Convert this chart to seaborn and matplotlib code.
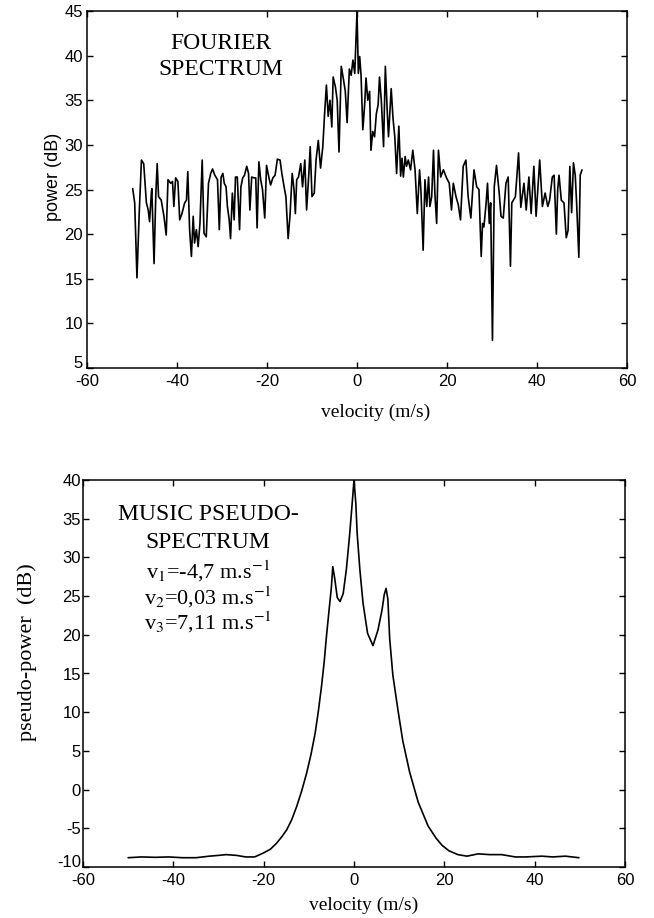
import matplotlib
matplotlib.use("Agg")
import matplotlib.pyplot as plt
import matplotlib.transforms as mtransforms
import seaborn as sns
import pandas as pd

# ---------------- data ----------------
fourier_velocity = [
    -49.85, -49.4, -48.9, -48.4, -47.9, -47.4, -46.8, -46.4, -46.1, -45.7,
    -45.6, -45.1, -44.7, -44.4, -44.1, -43.5, -42.9, -42.4, -42.0, -41.4,
    -41.0, -40.7, -40.3, -39.8, -39.4, -38.9, -38.3, -37.9, -37.6, -37.2,
    -36.8, -36.4, -36.1, -35.7, -35.3, -34.9, -34.4, -34.0, -33.5, -33.0,
    -32.5, -32.1, -31.6, -31.0, -30.6, -30.2, -29.8, -29.5, -29.1, -28.8,
    -28.4, -28.1, -27.7, -27.3, -27.0, -26.6, -26.1, -25.8, -25.4, -25.0,
    -24.5, -24.1, -23.8, -23.4, -22.9, -22.5, -22.2, -21.8, -21.4, -21.0,
    -20.5, -20.1, -19.6, -19.2, -18.7, -18.2, -17.7, -17.1, -16.7, -16.2,
    -15.8, -15.3, -14.9, -14.4, -14.0, -13.7, -13.4, -13.0, -12.5, -12.1,
    -11.6, -11.2, -10.7, -10.4, -10.0, -9.5, -9.1, -8.6, -8.1, -7.6,
    -7.2, -6.8, -6.4, -6.0, -5.6, -5.3, -4.8, -4.4, -4.0, -3.5,
    -3.0, -2.6, -2.2, -1.7, -1.3, -0.9, -0.5, 0.0, 0.3, 0.6,
    0.9, 1.3, 1.7, 2.0, 2.4, 2.8, 3.1, 3.5, 3.9, 4.3,
    4.7, 5.0, 5.4, 5.9, 6.3, 6.7, 7.0, 7.6, 8.0, 8.4,
    8.8, 9.3, 9.7, 10.0, 10.3, 10.7, 11.0, 11.4, 11.9, 12.4,
    12.9, 13.4, 13.9, 14.2, 14.7, 15.1, 15.5, 15.9, 16.2, 16.6,
    17.0, 17.3, 17.7, 18.1, 18.6, 19.2, 19.9, 20.5, 21.0, 21.4,
    22.0, 22.5, 23.0, 23.6, 24.2, 24.7, 25.3, 26.0, 26.6, 27.1,
    27.6, 27.9, 28.2, 28.7, 29.0, 29.4, 29.7, 30.1, 30.5, 31.0,
    31.6, 32.0, 32.5, 33.1, 33.6, 34.1, 34.4, 35.2, 35.9, 36.4,
    37.1, 37.6, 38.2, 38.7, 39.3, 39.8, 40.6, 41.2, 41.8, 42.4,
    42.8, 43.4, 43.8, 44.3, 44.6, 44.9, 45.4, 46.0, 46.5, 46.9,
    47.3, 47.7, 48.1, 48.5, 48.8, 49.3, 49.6, 50.0,
]
fourier_power = [
    25.1, 23.5, 15.1, 22.3, 28.3, 27.9, 23.5, 22.7, 21.4, 24.6,
    25.1, 16.7, 24.6, 27.9, 24.2, 23.8, 22.0, 19.9, 26.1, 25.7,
    25.9, 23.1, 26.3, 25.9, 21.6, 22.3, 23.5, 23.8, 27.0, 20.5,
    17.5, 22.0, 19.0, 20.5, 18.6, 21.2, 28.3, 20.1, 19.7, 25.7,
    26.8, 27.3, 26.6, 26.1, 20.5, 26.4, 26.8, 25.7, 25.3, 23.1,
    21.6, 19.5, 24.6, 21.6, 26.4, 26.4, 20.5, 25.3, 26.3, 26.6,
    27.6, 26.8, 22.7, 26.4, 26.3, 26.3, 20.7, 28.1, 26.1, 25.0,
    21.8, 27.7, 26.4, 25.5, 26.3, 26.6, 28.4, 28.3, 26.8, 25.3,
    24.2, 19.5, 22.0, 26.8, 25.0, 22.3, 26.1, 26.4, 27.9, 25.3,
    28.3, 22.7, 26.8, 29.8, 24.2, 24.6, 28.3, 30.5, 27.4, 29.8,
    33.5, 36.7, 33.2, 35.0, 32.0, 37.6, 36.5, 35.0, 29.2, 38.8,
    37.3, 36.0, 32.5, 38.5, 37.8, 39.5, 38.0, 45.0, 38.0, 39.9,
    37.8, 31.7, 34.5, 37.5, 35.0, 36.0, 29.4, 31.5, 30.9, 33.5,
    34.5, 37.6, 35.0, 29.8, 38.8, 34.0, 30.9, 36.3, 33.0, 30.9,
    26.8, 32.1, 26.5, 28.5, 26.4, 28.7, 27.6, 28.3, 27.2, 29.4,
    27.2, 22.3, 27.2, 25.0, 18.2, 26.1, 23.1, 26.4, 23.1, 24.2,
    29.4, 24.6, 21.2, 29.4, 26.4, 27.2, 26.3, 25.7, 22.7, 25.7,
    24.2, 23.3, 21.6, 27.6, 28.3, 24.2, 21.8, 27.2, 25.3, 25.0,
    17.5, 21.2, 20.8, 23.5, 25.7, 21.2, 23.5, 8.1, 25.3, 27.7,
    24.6, 22.0, 21.8, 25.7, 26.4, 16.4, 23.5, 24.2, 29.1, 23.0,
    25.7, 22.7, 26.4, 22.3, 27.6, 22.0, 28.3, 23.1, 24.6, 23.1,
    23.8, 26.4, 26.6, 20.0, 25.0, 26.6, 23.8, 23.5, 19.6, 20.4,
    27.6, 22.4, 28.0, 26.6, 23.5, 17.4, 26.6, 27.2,
]

music_velocity = [
    -50.0, -47.0, -44.0, -41.0, -38.0, -35.0, -32.0, -30.0, -28.3, -26.0,
    -24.0, -22.0, -20.1, -18.5, -17.1, -16.0, -14.9, -13.8, -12.7, -11.6,
    -10.5, -9.5, -8.6, -7.9, -7.2, -6.6, -6.1, -5.5, -5.0, -4.7,
    -4.3, -3.7, -3.1, -2.4, -1.7, -1.0, -0.4, 0.0, 0.4, 0.7,
    1.3, 2.0, 3.0, 4.2, 5.3, 6.2, 6.7, 7.1, 7.5, 7.9,
    8.6, 9.7, 10.8, 12.3, 14.2, 16.4, 18.2, 19.5, 21.0, 23.0,
    25.0, 27.5, 30.0, 32.7, 35.7, 38.0, 41.6, 44.0, 46.8, 49.8,
]
music_power = [
    -8.8, -8.7, -8.75, -8.7, -8.8, -8.8, -8.6, -8.5, -8.4, -8.5,
    -8.7, -8.7, -8.2, -7.7, -6.9, -6.1, -5.2, -3.9, -2.2, -0.2,
    2.1, 4.6, 7.3, 10.1, 13.3, 16.5, 19.8, 23.3, 26.2, 28.8,
    27.4, 24.8, 24.3, 25.3, 28.4, 32.7, 37.0, 40.0, 37.0, 33.1,
    28.4, 24.1, 20.2, 18.6, 20.6, 23.2, 25.2, 26.0, 24.6, 19.5,
    14.8, 10.4, 6.3, 2.3, -1.6, -4.7, -6.3, -7.2, -7.9, -8.4,
    -8.6, -8.3, -8.4, -8.4, -8.7, -8.7, -8.6, -8.7, -8.6, -8.8,
]

x_ticks = [-60, -40, -20, 0, 20, 40, 60]
top_y_ticks = [5, 10, 15, 20, 25, 30, 35, 40, 45]
bottom_y_ticks = [-10, -5, 0, 5, 10, 15, 20, 25, 30, 35, 40]

top_annotation = ["FOURIER", "SPECTRUM"]
bottom_title = ["MUSIC PSEUDO-", "SPECTRUM"]
bottom_velocities = [
    r"v$_\mathrm{1}$=-4,7 m.s$^\mathrm{-1}$",
    r"v$_\mathrm{2}$=0,03 m.s$^\mathrm{-1}$",
    r"v$_\mathrm{3}$=7,11 m.s$^\mathrm{-1}$",
]

# ---------------- style ----------------
sns.set_theme(style="ticks")
plt.rcParams["font.family"] = ["Liberation Sans", "DejaVu Sans"]
plt.rcParams["mathtext.fontset"] = "stix"
plt.rcParams["axes.unicode_minus"] = False
SERIF = ["Liberation Serif", "DejaVu Serif"]

fig = plt.figure(figsize=(6.54, 9.18), dpi=100)
fig.patch.set_facecolor("white")
ax1 = fig.add_axes([87 / 654, 1 - 368 / 918, 540 / 654, 357 / 918])
ax2 = fig.add_axes([83 / 654, 1 - 867 / 918, 542 / 654, 387 / 918])

df_f = pd.DataFrame({"velocity": fourier_velocity, "power": fourier_power})
df_m = pd.DataFrame({"velocity": music_velocity, "power": music_power})

sns.lineplot(data=df_f, x="velocity", y="power", ax=ax1, color="black",
             linewidth=1.2, estimator=None, sort=False)
sns.lineplot(data=df_m, x="velocity", y="power", ax=ax2, color="black",
             linewidth=1.2, estimator=None, sort=False)


def style_axes(ax, yticks, ylim, ylabel, xlabel, ylabel_family, ylabel_size,
               ylabel_xy, xlabel_xy, ypad, xpad):
    ax.set_xlim(-60, 60)
    ax.set_ylim(*ylim)
    ax.set_xticks(x_ticks)
    ax.set_yticks(yticks)
    ax.set_facecolor("white")
    for s in ax.spines.values():
        s.set_visible(True)
        s.set_color("black")
        s.set_linewidth(1.1)
    ax.tick_params(axis="both", direction="in", length=4, width=1.0,
                   colors="black", top=True, right=True, labelsize=12)
    ax.tick_params(axis="y", pad=ypad)
    ax.tick_params(axis="x", pad=xpad)
    ax.set_ylabel(ylabel, family=ylabel_family, fontsize=ylabel_size,
                  color="black")
    ax.yaxis.set_label_coords(*ylabel_xy)
    ax.set_xlabel(xlabel, family=SERIF, fontsize=14, color="black", va="top")
    ax.xaxis.set_label_coords(*xlabel_xy)
    ax.grid(False)


style_axes(ax1, top_y_ticks, (5, 45), "power (dB)", "velocity (m/s)",
           ["Liberation Sans", "DejaVu Sans"], 13,
           (-0.047, 0.534), (0.535, -0.10), 3, 4)
style_axes(ax2, bottom_y_ticks, (-10, 40), "pseudo-power  (dB)",
           "velocity (m/s)", SERIF, 16,
           (-0.085, 0.556), (0.5175, -0.078), 1.5, 4)

# lift the lowest y tick label a little (as in the reference, it sits above "-60")
fig.canvas.draw()
for ax in (ax1, ax2):
    lbl = ax.get_yticklabels()[0]
    lbl.set_transform(lbl.get_transform() +
                      mtransforms.ScaledTranslation(0, 4 / 72, fig.dpi_scale_trans))

# annotations
top_y = [41.4, 38.4]
for txt, yy in zip(top_annotation, top_y):
    ax1.text(-30.2, yy, txt, family=SERIF, fontsize=17, ha="center",
             va="center", color="black")

for txt, yy in zip(bottom_title, [35.5, 31.9]):
    ax2.text(-32.3, yy, txt, family=SERIF, fontsize=17, ha="center",
             va="center", color="black")

for txt, yy in zip(bottom_velocities, [28.2, 24.9, 21.6]):
    ax2.text(-32.3, yy, txt, family=SERIF, fontsize=16, ha="center",
             va="center", color="black")

fig.savefig("out.png", dpi=100, facecolor="white")
